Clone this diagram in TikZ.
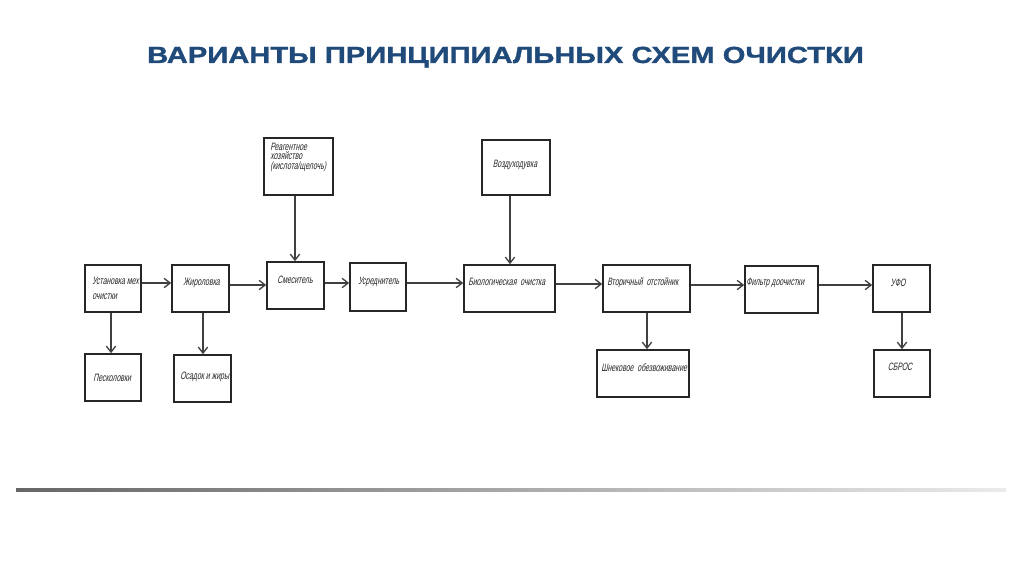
\documentclass[tikz,border=0pt]{standalone}
\usepackage{fontspec}
\setmainfont{Liberation Sans}
\newfontfamily\boxfont[FakeStretch=0.65,FakeSlant=0.2]{Liberation Sans}
\newfontfamily\titlefont[FakeBold=1.2]{Liberation Sans Bold}
\usetikzlibrary{arrows.meta,fit,calc}
\definecolor{titleblue}{HTML}{1F4A7A}
\begin{document}
\begin{tikzpicture}[x=0.75pt,y=-0.75pt,
  box/.style={draw=black!85, line width=1.2pt, inner sep=0pt, fill=white},
  lbl/.style={font=\boxfont\fontsize{8}{11}\selectfont, inner sep=0pt, align=left, text=black!85},
  arr/.style={draw=black!75, line width=1pt, -{Straight Barb[length=4.5pt,width=7pt]}}]
\useasboundingbox (0,0) rectangle (1024,574);
% title
\node[font=\titlefont\fontsize{17.5}{20}\selectfont, text=titleblue, anchor=base, inner sep=0pt] (title) at (505.5,63) {\scalebox{1.25}[1]{ВАРИАНТЫ ПРИНЦИПИАЛЬНЫХ СХЕМ ОЧИСТКИ}};
% boxes
\node[box, fit={(85,265) (141,312)}] (n1) {};
\node[box, fit={(172,265) (229,312)}] (n2) {};
\node[box, fit={(267,262) (324,309)}] (n3) {};
\node[box, fit={(264,138) (333,195)}] (n4) {};
\node[box, fit={(350,263) (406,311)}] (n5) {};
\node[box, fit={(464,265) (555,312)}] (n6) {};
\node[box, fit={(482,140) (550,195)}] (n7) {};
\node[box, fit={(603,265) (690,312)}] (n8) {};
\node[box, fit={(745,266) (818,313)}] (n9) {};
\node[box, fit={(873,265) (930,312)}] (n10) {};
\node[box, fit={(85,354) (141,401)}] (n11) {};
\node[box, fit={(174,355) (231,402)}] (n12) {};
\node[box, fit={(597,350) (689,397)}] (n13) {};
\node[box, fit={(874,350) (930,397)}] (n14) {};
% labels
\node[lbl, anchor=north west] (l1) at (92,277) {Установка мех\\очистки};
\node[lbl, anchor=west] (l2) at (183,283) {Жироловка};
\node[lbl, anchor=west] (l3) at (277,280) {Смеситель};
\node[lbl, anchor=north west, font=\boxfont\fontsize{8}{5.7}\selectfont] (l4) at (270,143) {Реагентное\\хозяйство\\(кислота/щелочь)};
\node[lbl, anchor=west] (l5) at (358,282) {Усреднитель};
\node[lbl, anchor=west] (l6) at (468,282) {Биологическая\ \ очистка};
\node[lbl, anchor=center] (l7) at (515,165) {Воздуходувка};
\node[lbl, anchor=west] (l8) at (607,283) {Вторичный\ \ отстойник};
\node[lbl, anchor=west] (l9) at (746,283) {Фильтр\ доочистки};
\node[lbl, anchor=center] (l10) at (898,283) {УФО};
\node[lbl, anchor=center] (l14) at (900,367) {СБРОС};
\node[lbl, anchor=west] (l11) at (93,378) {Песколовки};
\node[lbl, anchor=west] (l12) at (180,377) {Осадок\ и\ жиры};
\node[lbl, anchor=west] (l13) at (601,368) {Шнековое\ \ обезвоживание};
% horizontal connectors
\draw[arr] (n1.east |- 0,283) -- (n2.west |- 0,283);
\draw[arr] (n2.east |- 0,285) -- (n3.west |- 0,285);
\draw[arr] (n3.east |- 0,283) -- (n5.west |- 0,283);
\draw[arr] (n5.east |- 0,283) -- (n6.west |- 0,283);
\draw[arr] (n6.east |- 0,284) -- (n8.west |- 0,284);
\draw[arr] (n8.east |- 0,285) -- (n9.west |- 0,285);
\draw[arr] (n9.east |- 0,285) -- (n10.west |- 0,285);
% vertical connectors
\draw[arr] (n1.south -| 111,0) -- (n11.north -| 111,0);
\draw[arr] (n2.south -| 203,0) -- (n12.north -| 203,0);
\draw[arr] (n4.south -| 295,0) -- (n3.north -| 295,0);
\draw[arr] (n7.south -| 510,0) -- (n6.north -| 510,0);
\draw[arr] (n8.south -| 647,0) -- (n13.north -| 647,0);
\draw[arr] (n10.south -| 902,0) -- (n14.north -| 902,0);
% separator
\shade[left color=black!60, right color=black!8] (16,488.5) rectangle (1006,491.5);
\end{tikzpicture}
\end{document}
